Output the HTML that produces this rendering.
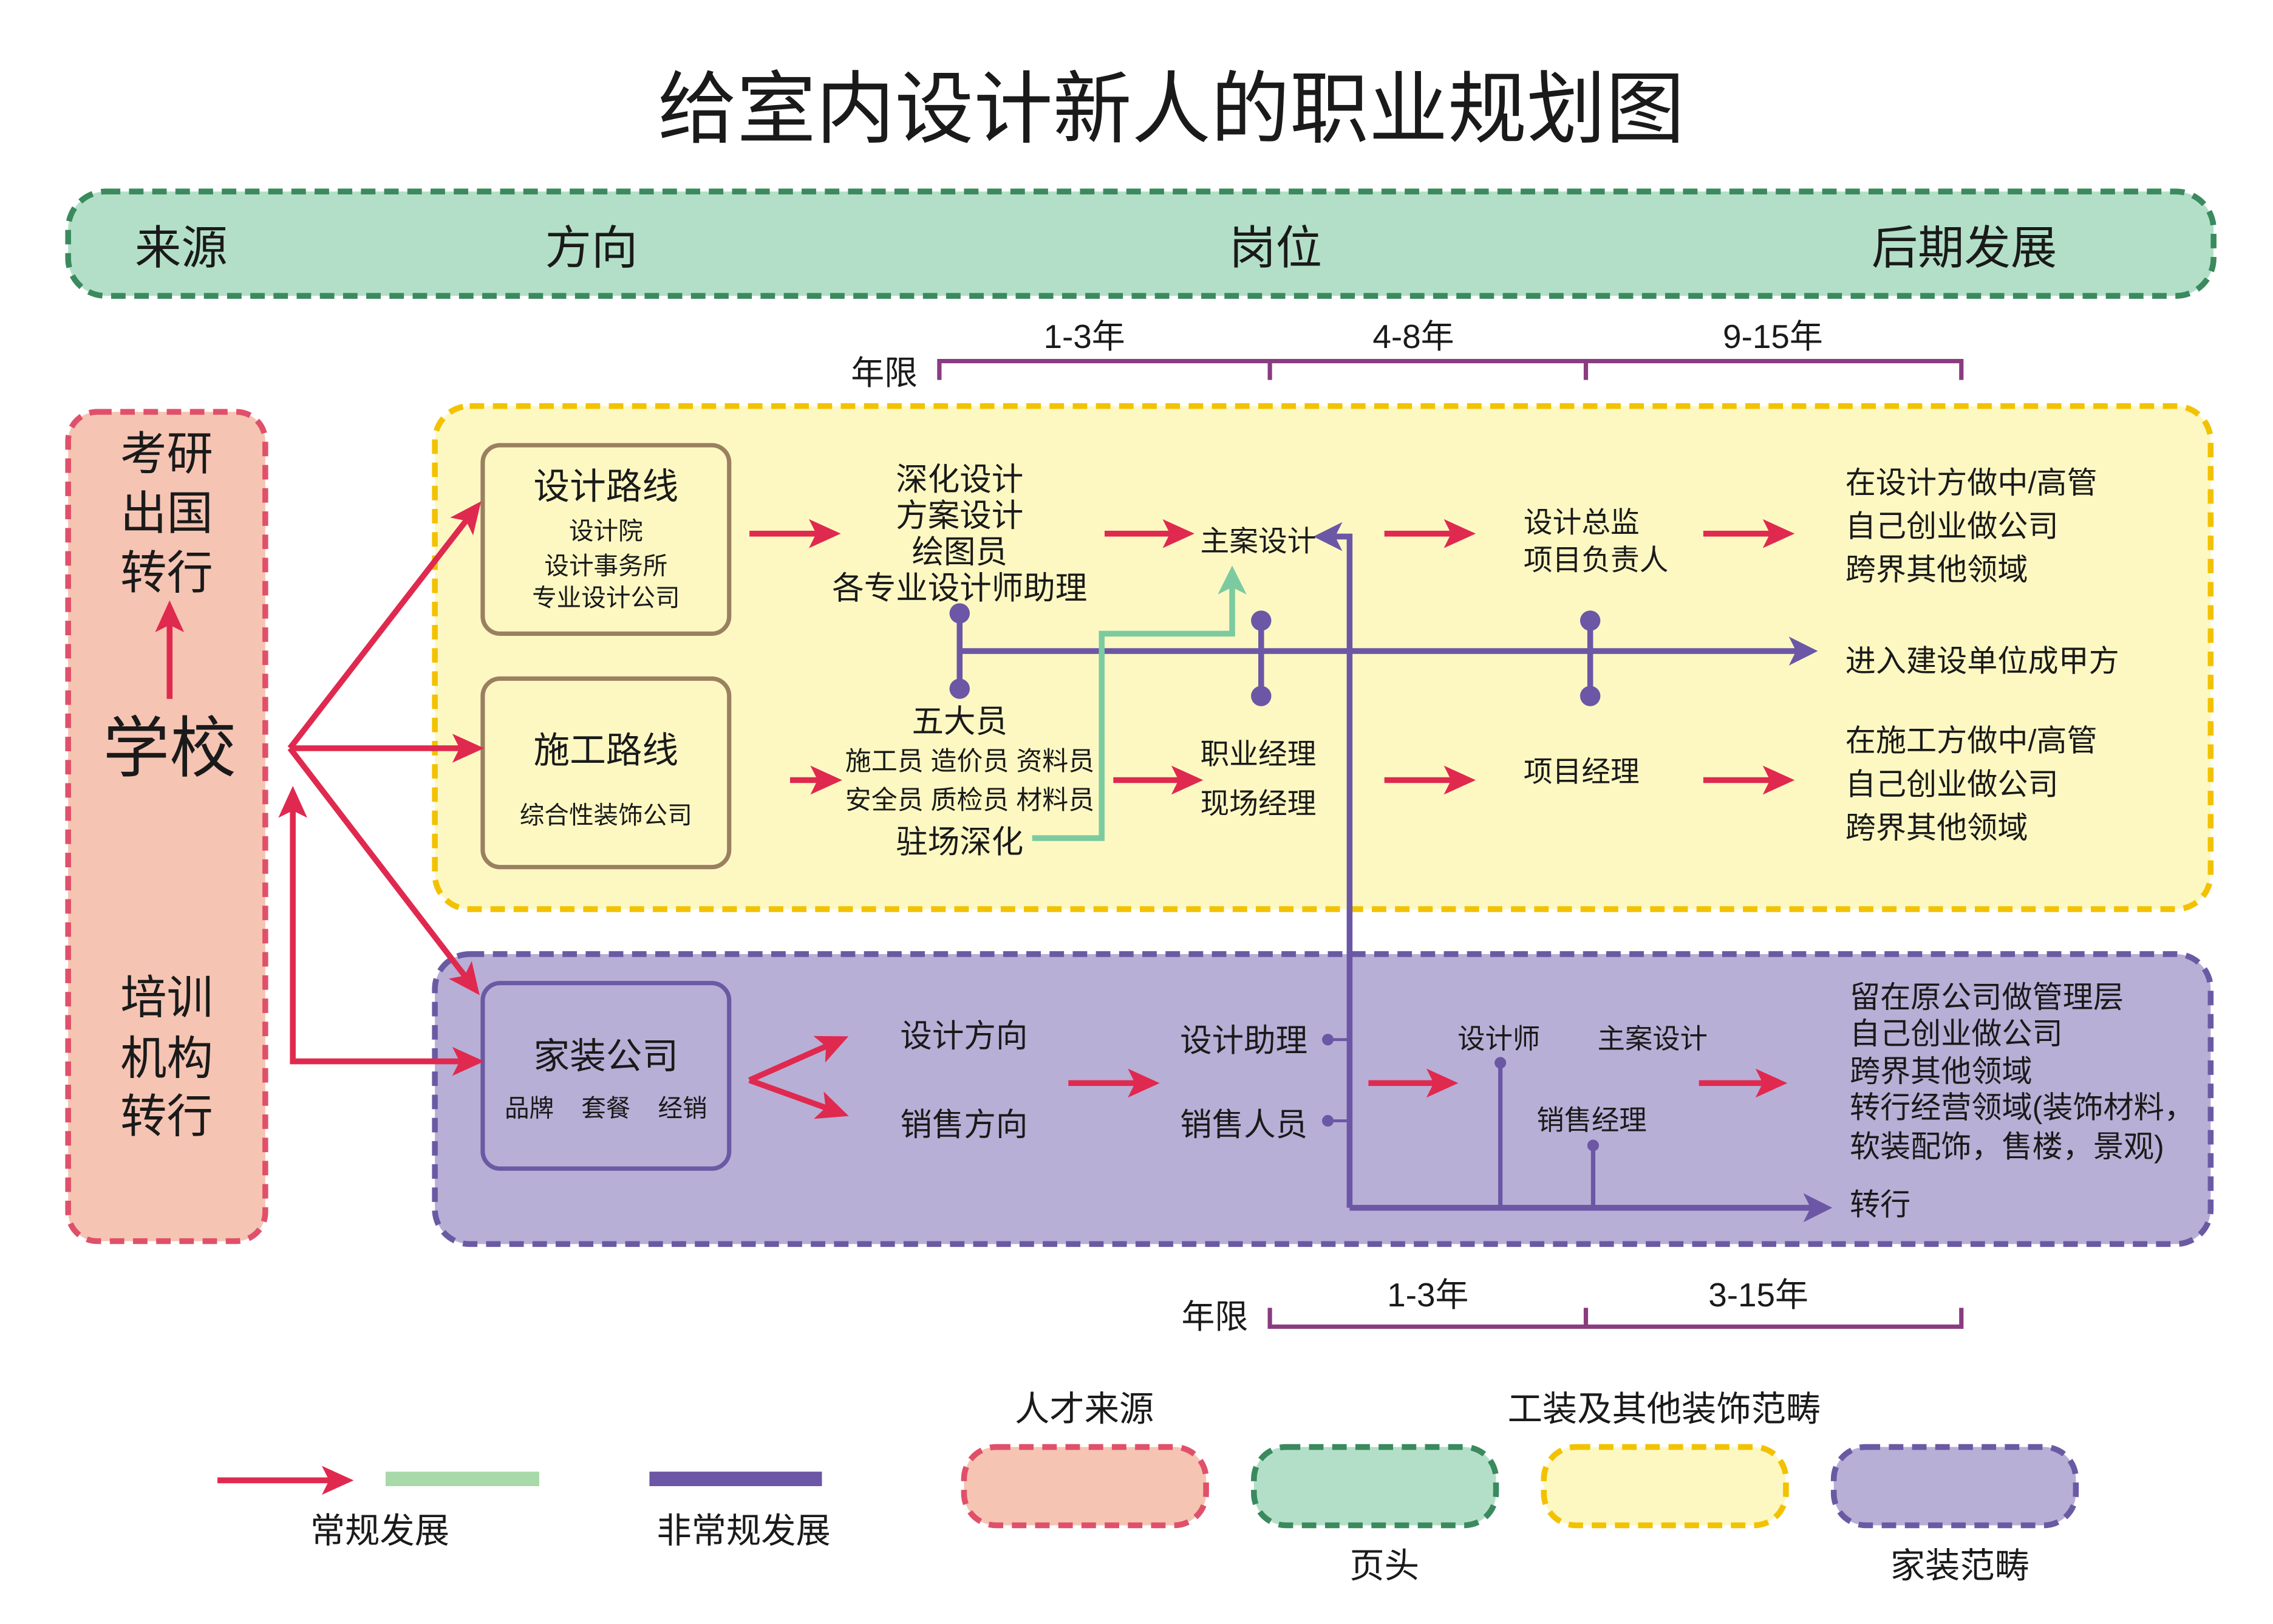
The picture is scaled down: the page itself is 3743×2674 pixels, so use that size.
<!DOCTYPE html>
<html><head><meta charset="utf-8"><style>
html,body{margin:0;padding:0;background:#fff}
svg{display:block}
text{font-family:"Liberation Sans","Noto Sans CJK SC",sans-serif;fill:#1a1a1a}
</style></head><body>
<svg width="3743" height="2674" viewBox="0 0 1568 1120" xmlns="http://www.w3.org/2000/svg">
<defs>
<marker id="rb" markerWidth="24" markerHeight="24" refX="14" refY="12" orient="auto" markerUnits="userSpaceOnUse"><path d="M0,2 L22,12 L0,22 L5,12 Z" fill="#e0294f"/></marker>
<marker id="pb" markerWidth="22" markerHeight="22" refX="14" refY="11" orient="auto" markerUnits="userSpaceOnUse"><path d="M0,1 L20,11 L0,21 L5,11 Z" fill="#6b57a5"/></marker>
<marker id="gb" markerWidth="22" markerHeight="22" refX="14" refY="11" orient="auto" markerUnits="userSpaceOnUse"><path d="M0,1 L20,11 L0,21 L5,11 Z" fill="#7ccba0"/></marker>
</defs>
<rect width="1568" height="1120" fill="#fff"/>
<text x="808" y="94" font-size="54.5" text-anchor="middle">给室内设计新人的职业规划图</text>
<rect x="47" y="132" width="1480" height="72" rx="26" fill="#b3dfc8" stroke="#3a8a5e" stroke-width="4" stroke-dasharray="10,6"/>
<g font-size="32" text-anchor="middle"><text x="125" y="182">来源</text><text x="408" y="182">方向</text><text x="880" y="182">岗位</text><text x="1355" y="182">后期发展</text></g>
<g stroke="#8a3c80" stroke-width="3" fill="none"><path d="M648,262 V249 H1353 V262 M876,249 V262 M1094,249 V262"/></g>
<g font-size="23" text-anchor="middle"><text x="610" y="265">年限</text><text x="748" y="240">1-3年</text><text x="975" y="240">4-8年</text><text x="1223" y="240">9-15年</text></g>
<rect x="47" y="284" width="136" height="572" rx="20" fill="#f5c4b3" stroke="#e0506a" stroke-width="4" stroke-dasharray="10,6"/>
<rect x="300" y="280" width="1225" height="347" rx="24" fill="#fdf8c2" stroke="#f2c200" stroke-width="4" stroke-dasharray="10,6"/>
<rect x="300" y="658" width="1225" height="200" rx="24" fill="#b8afd6" stroke="#6a5aa3" stroke-width="4" stroke-dasharray="10,6"/>
<g font-size="32" text-anchor="middle"><text x="115" y="324">考研</text><text x="115" y="365">出国</text><text x="115" y="406">转行</text>
<text x="115" y="699">培训</text><text x="115" y="741">机构</text><text x="115" y="781">转行</text></g>
<text x="117" y="532" font-size="46" text-anchor="middle">学校</text>
<line x1="117" y1="482" x2="117" y2="422" stroke="#e0294f" stroke-width="4" marker-end="url(#rb)"/>
<rect x="333" y="307" width="170" height="130" rx="12" fill="none" stroke="#9a8060" stroke-width="3"/>
<rect x="333" y="468" width="170" height="130" rx="12" fill="none" stroke="#9a8060" stroke-width="3"/>
<rect x="333" y="678" width="170" height="128" rx="12" fill="none" stroke="#6a5aa3" stroke-width="3"/>
<g text-anchor="middle">
<text x="418" y="344" font-size="25">设计路线</text>
<text x="418" y="372" font-size="17">设计院</text><text x="418" y="396" font-size="17">设计事务所</text><text x="418" y="418" font-size="17">专业设计公司</text>
<text x="418" y="526" font-size="25">施工路线</text><text x="418" y="568" font-size="17">综合性装饰公司</text>
<text x="418" y="737" font-size="25">家装公司</text><text x="418" y="770" font-size="17" xml:space="preserve">品牌    套餐    经销</text>
</g>
<g stroke="#e0294f" stroke-width="4" fill="none">
<line x1="200" y1="516" x2="327" y2="352" marker-end="url(#rb)"/>
<line x1="200" y1="516" x2="326" y2="516" marker-end="url(#rb)"/>
<line x1="200" y1="516" x2="326" y2="680" marker-end="url(#rb)"/>
<path d="M330,732 H202 V550" marker-end="url(#rb)"/>
<line x1="320" y1="732" x2="326" y2="732" marker-end="url(#rb)"/>
<line x1="517" y1="368" x2="572" y2="368" marker-end="url(#rb)"/>
<line x1="762" y1="368" x2="816" y2="368" marker-end="url(#rb)"/>
<line x1="955" y1="368" x2="1010" y2="368" marker-end="url(#rb)"/>
<line x1="1175" y1="368" x2="1230" y2="368" marker-end="url(#rb)"/>
<line x1="545" y1="538" x2="573" y2="538" marker-end="url(#rb)"/>
<line x1="768" y1="538" x2="822" y2="538" marker-end="url(#rb)"/>
<line x1="955" y1="538" x2="1010" y2="538" marker-end="url(#rb)"/>
<line x1="1175" y1="538" x2="1230" y2="538" marker-end="url(#rb)"/>
<line x1="517" y1="745" x2="578" y2="718" marker-end="url(#rb)"/>
<line x1="517" y1="745" x2="578" y2="767" marker-end="url(#rb)"/>
<line x1="737" y1="747" x2="792" y2="747" marker-end="url(#rb)"/>
<line x1="944" y1="747" x2="998" y2="747" marker-end="url(#rb)"/>
<line x1="1172" y1="747" x2="1225" y2="747" marker-end="url(#rb)"/>
</g>
<g stroke="#6b57a5" stroke-width="4" fill="none">
<line x1="662" y1="449" x2="1248" y2="449" marker-end="url(#pb)"/>
<line x1="662" y1="423" x2="662" y2="475"/>
<line x1="870" y1="428" x2="870" y2="480"/>
<line x1="1097" y1="428" x2="1097" y2="480"/>
<path d="M931,833 V370 H912" marker-end="url(#pb)"/>
<line x1="931" y1="833" x2="1258" y2="833" marker-end="url(#pb)"/>
<line x1="916" y1="717" x2="931" y2="717" stroke-width="2"/>
<line x1="916" y1="773" x2="931" y2="773" stroke-width="2"/>
<line x1="1035" y1="733" x2="1035" y2="833" stroke-width="3"/>
<line x1="1099" y1="790" x2="1099" y2="833" stroke-width="3"/>
</g>
<g fill="#6b57a5"><circle cx="662" cy="423" r="7"/><circle cx="662" cy="475" r="7"/><circle cx="870" cy="428" r="7"/><circle cx="870" cy="480" r="7"/><circle cx="1097" cy="428" r="7"/><circle cx="1097" cy="480" r="7"/>
<circle cx="916" cy="717" r="4"/><circle cx="916" cy="773" r="4"/><circle cx="1035" cy="733" r="4"/><circle cx="1099" cy="790" r="4"/></g>
<path d="M712,578 H760 V437 H850 V396" stroke="#7ccba0" stroke-width="4" fill="none" marker-end="url(#gb)"/>
<g text-anchor="middle" font-size="22">
<text x="662" y="338">深化设计</text><text x="662" y="363">方案设计</text><text x="662" y="388">绘图员</text><text x="662" y="413">各专业设计师助理</text>
<text x="662" y="505">五大员</text><text x="662" y="588">驻场深化</text>
</g>
<g text-anchor="middle" font-size="18"><text x="669" y="531">施工员 造价员 资料员</text><text x="669" y="558">安全员 质检员 材料员</text></g>
<g font-size="20">
<text x="828" y="380">主案设计</text><text x="828" y="527">职业经理</text><text x="828" y="561">现场经理</text>
<text x="1051" y="367">设计总监</text><text x="1051" y="393">项目负责人</text><text x="1051" y="539">项目经理</text>
</g>
<g font-size="21">
<text x="1273" y="340">在设计方做中/高管</text><text x="1273" y="370">自己创业做公司</text><text x="1273" y="400">跨界其他领域</text>
<text x="1273" y="463">进入建设单位成甲方</text>
<text x="1273" y="518">在施工方做中/高管</text><text x="1273" y="548">自己创业做公司</text><text x="1273" y="578">跨界其他领域</text>
<text x="1276" y="695">留在原公司做管理层</text><text x="1276" y="720">自己创业做公司</text><text x="1276" y="746">跨界其他领域</text>
<text x="1276" y="771">转行经营领域(装饰材料，</text><text x="1276" y="798">软装配饰，售楼，景观)</text><text x="1276" y="838">转行</text>
</g>
<g font-size="22" text-anchor="middle"><text x="665" y="722">设计方向</text><text x="665" y="783">销售方向</text><text x="858" y="725">设计助理</text><text x="858" y="783">销售人员</text></g>
<g font-size="19" text-anchor="middle"><text x="1034" y="723">设计师</text><text x="1140" y="723">主案设计</text><text x="1098" y="779">销售经理</text></g>
<g stroke="#8a3c80" stroke-width="3" fill="none"><path d="M876,902 V915 H1353 V902 M1094,915 V902"/></g>
<g font-size="23" text-anchor="middle"><text x="838" y="916">年限</text><text x="985" y="901">1-3年</text><text x="1213" y="901">3-15年</text></g>
<line x1="150" y1="1021" x2="236" y2="1021" stroke="#e0294f" stroke-width="4" marker-end="url(#rb)"/>
<rect x="266" y="1015" width="106" height="10" fill="#a8d9a8"/>
<rect x="448" y="1015" width="119" height="10" fill="#6b57a5"/>
<g font-size="24" text-anchor="middle"><text x="262" y="1064">常规发展</text><text x="513" y="1064">非常规发展</text>
<text x="748" y="980">人才来源</text><text x="1148" y="980">工装及其他装饰范畴</text><text x="955" y="1088">页头</text><text x="1352" y="1088">家装范畴</text></g>
<rect x="665" y="998" width="167" height="54" rx="22" fill="#f5c4b3" stroke="#e0506a" stroke-width="4" stroke-dasharray="10,6"/>
<rect x="865" y="998" width="167" height="54" rx="22" fill="#b3dfc8" stroke="#3a8a5e" stroke-width="4" stroke-dasharray="10,6"/>
<rect x="1065" y="998" width="167" height="54" rx="22" fill="#fdf8c2" stroke="#f2c200" stroke-width="4" stroke-dasharray="10,6"/>
<rect x="1265" y="998" width="167" height="54" rx="22" fill="#b8afd6" stroke="#6a5aa3" stroke-width="4" stroke-dasharray="10,6"/>
</svg>
</body></html>
